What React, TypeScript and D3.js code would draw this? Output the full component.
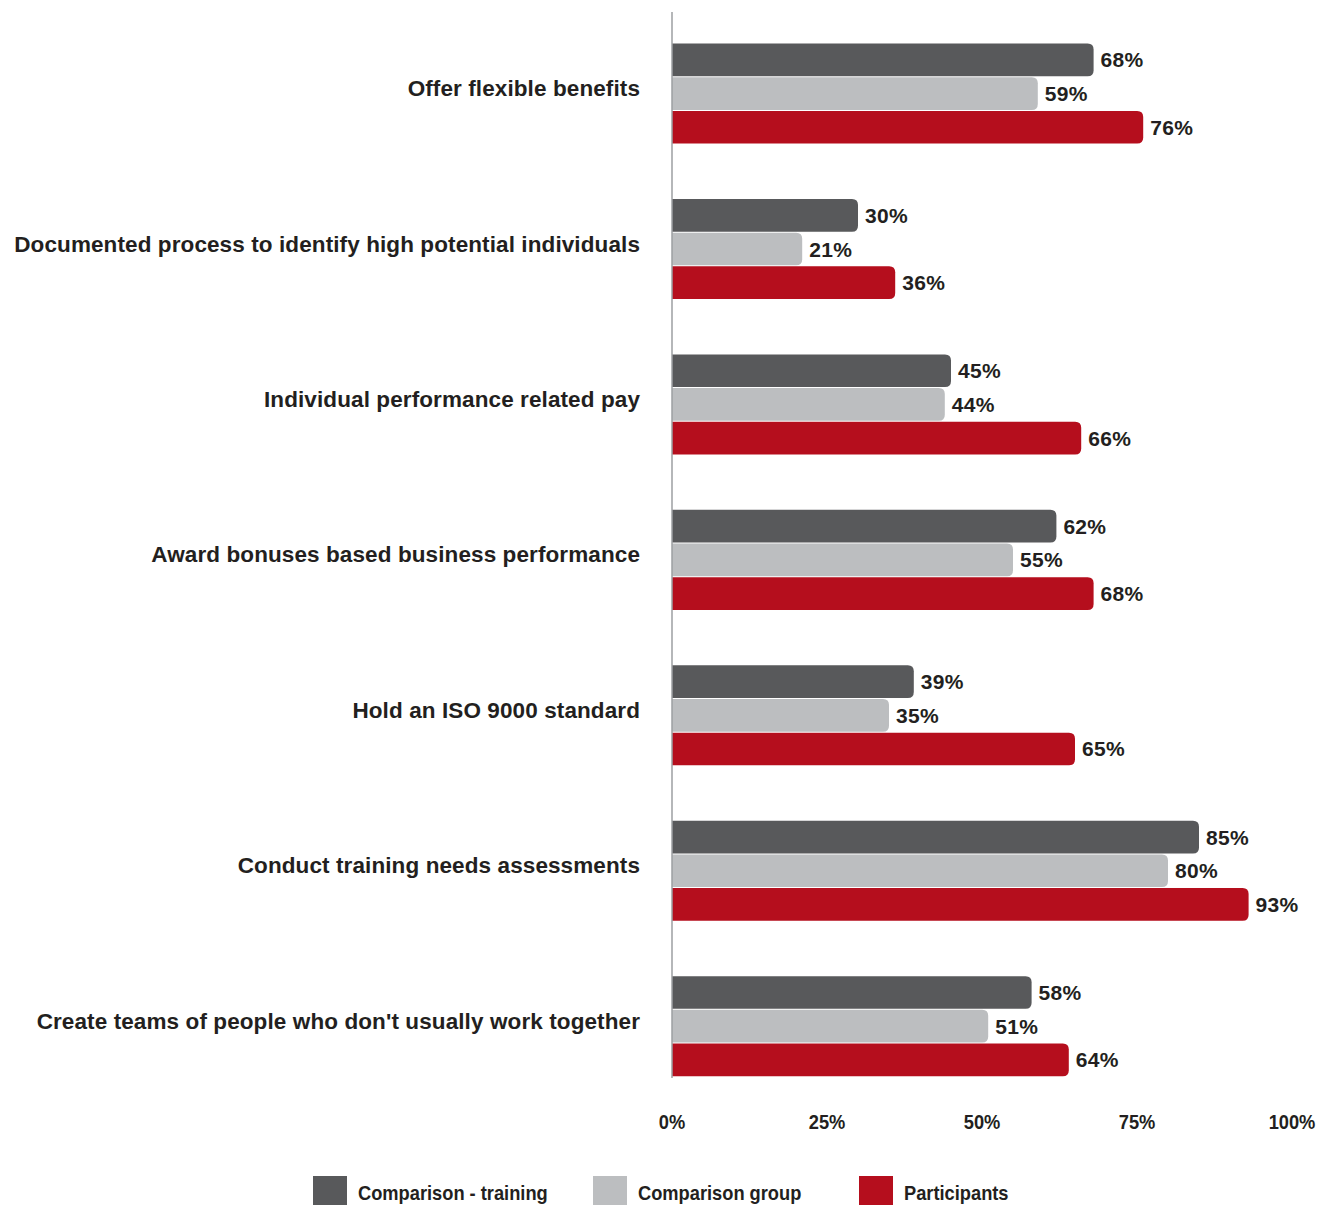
import React from "react";
import * as d3 from "d3";

const categories = [
  "Offer flexible benefits",
  "Documented process to identify high potential individuals",
  "Individual performance related pay",
  "Award bonuses based business performance",
  "Hold an ISO 9000 standard",
  "Conduct training needs assessments",
  "Create teams of people who don't usually work together",
];
const seriesNames = ["Comparison - training", "Comparison group", "Participants"];
const comparisonTraining = [68, 30, 45, 62, 39, 85, 58];
const comparisonGroup = [59, 21, 44, 55, 35, 80, 51];
const participants = [76, 36, 66, 68, 65, 93, 64];
const xTicks = [0, 25, 50, 75, 100];
const colors = ["#58595b", "#bcbec0", "#b50e1d"];

const W = 1336;
const H = 1205;
const textColor = "#231f20";

function barPath(x0: number, y: number, w: number, h: number, r: number) {
  const rr = Math.min(r, w, h / 2);
  return `M${x0},${y}H${x0 + w - rr}Q${x0 + w},${y} ${x0 + w},${y + rr}V${y + h - rr}Q${x0 + w},${y + h} ${x0 + w - rr},${y + h}H${x0}Z`;
}

// condensed text: Liberation Sans bold squeezed horizontally
function Condensed(props: { x: number; y: number; anchor?: string; children: string }) {
  const sx = 0.87;
  const { x, y, anchor, children } = props;
  return (
    <text
      transform={`translate(${x},${y}) scale(${sx},1)`}
      textAnchor={anchor || "start"}
      dominantBaseline="central"
      fontFamily="'Liberation Sans', Arial, sans-serif"
      fontWeight="bold"
      fontSize={21}
      fill={textColor}
    >
      {children}
    </text>
  );
}

export default function App() {
  const seriesValues = [comparisonTraining, comparisonGroup, participants];
  const x = d3.scaleLinear().domain([0, 100]).range([672, 1292]);
  const y = d3
    .scaleBand<string>()
    .domain(categories)
    .range([15.85, 1103.9])
    .paddingInner(0.35)
    .paddingOuter(0.175);
  const ys = d3.scaleBand<string>().domain(seriesNames).range([0, y.bandwidth()]);
  const font = "'Liberation Sans', Arial, sans-serif";

  return (
    <svg
      width={W}
      height={H}
      style={{ position: "absolute", left: 0, top: 0, background: "#fff" }}
    >
      {categories.map((c, ci) => {
        const y0 = y(c)!;
        return (
          <g key={c}>
            <text
              x={640}
              y={y0 + y.bandwidth() / 2 - 5}
              textAnchor="end"
              dominantBaseline="central"
              fontFamily={font}
              fontWeight="bold"
              fontSize={22.5}
              letterSpacing={0.1}
              fill={textColor}
            >
              {c}
            </text>
            {seriesNames.map((s, si) => {
              const v = seriesValues[si][ci];
              const by = y0 + ys(s)!;
              const bh = ys.bandwidth();
              return (
                <g key={s}>
                  <path
                    d={barPath(x(0), by + 0.5, x(v) - x(0), bh - 1, 6)}
                    fill={colors[si]}
                  />
                  <text
                    x={x(v) + 7}
                    y={by + bh / 2}
                    dominantBaseline="central"
                    fontFamily={font}
                    fontWeight="bold"
                    fontSize={21}
                    letterSpacing={0.3}
                    fill={textColor}
                  >
                    {v}%
                  </text>
                </g>
              );
            })}
          </g>
        );
      })}
      <line x1={x(0)} x2={x(0)} y1={12} y2={1078} stroke="#9d9fa2" strokeWidth={1.5} />
      {xTicks.map((t) => (
        <Condensed key={t} x={x(t)} y={1122} anchor="middle">
          {`${t}%`}
        </Condensed>
      ))}
      {seriesNames.map((s, si) => {
        const lx = [313, 593, 859][si];
        return (
          <g key={s}>
            <rect x={lx} y={1176} width={34} height={32} fill={colors[si]} />
            <Condensed x={lx + 45} y={1193}>
              {s}
            </Condensed>
          </g>
        );
      })}
    </svg>
  );
}
